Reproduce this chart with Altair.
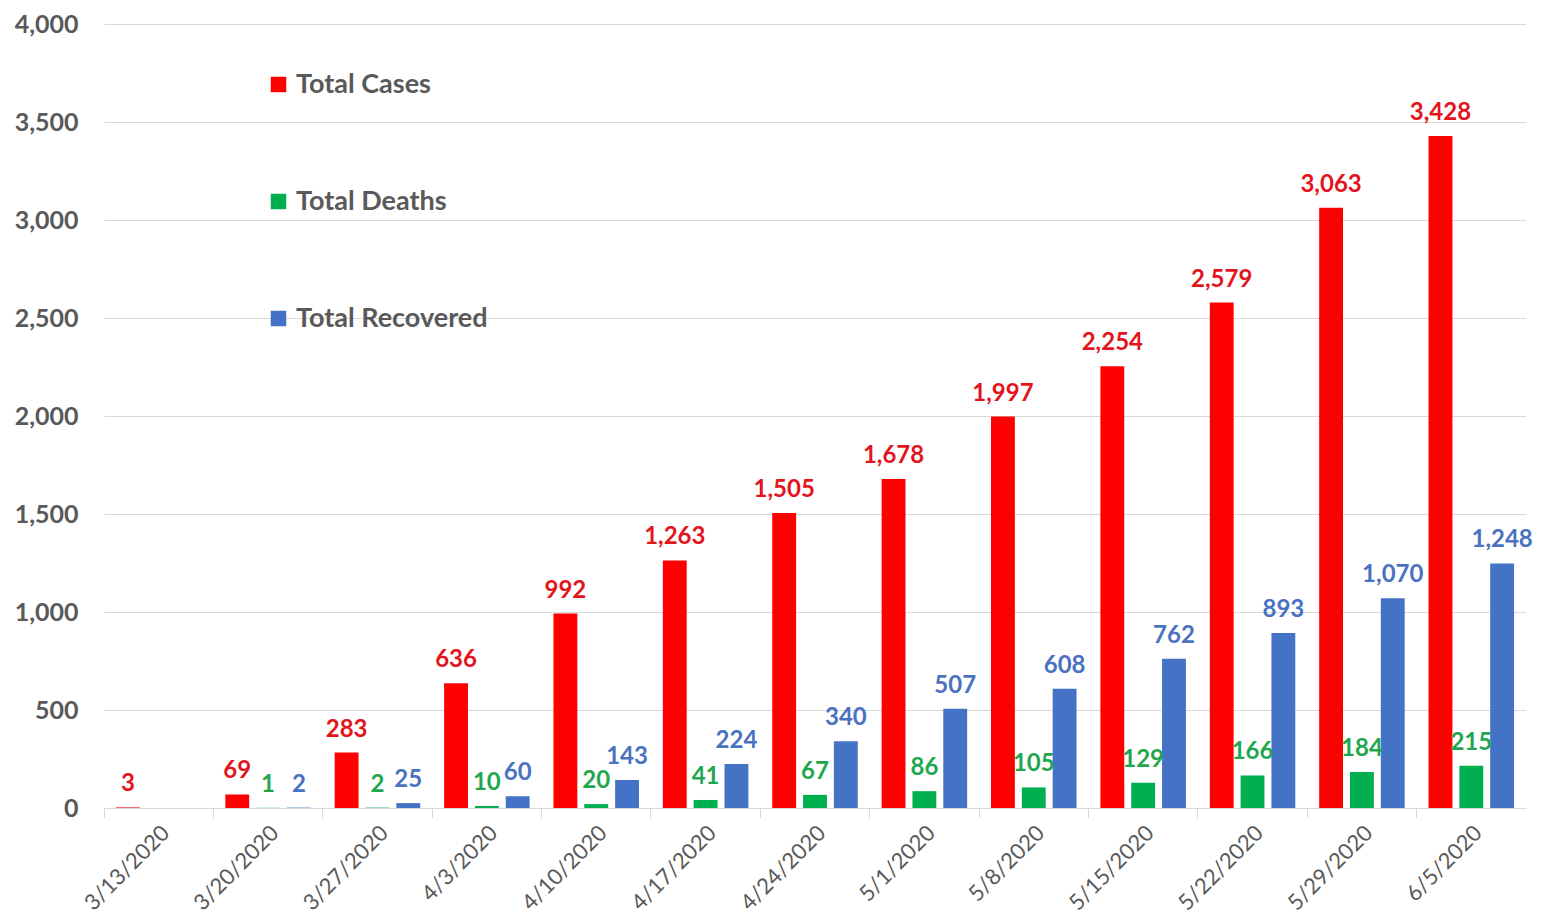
import altair as alt
import pandas as pd

dates = ["3/13/2020", "3/20/2020", "3/27/2020", "4/3/2020", "4/10/2020", "4/17/2020",
         "4/24/2020", "5/1/2020", "5/8/2020", "5/15/2020", "5/22/2020", "5/29/2020", "6/5/2020"]
total_cases = [3, 69, 283, 636, 992, 1263, 1505, 1678, 1997, 2254, 2579, 3063, 3428]
total_deaths = [None, 1, 2, 10, 20, 41, 67, 86, 105, 129, 166, 184, 215]
total_recovered = [None, 2, 25, 60, 143, 224, 340, 507, 608, 762, 893, 1070, 1248]
series = ["Total Cases", "Total Deaths", "Total Recovered"]
colors = ["#FF0000", "#00B050", "#4472C4"]
label_colors = ["#E3141C", "#1FA74F", "#4A72C0"]

rows = []
for s, vals in zip(series, [total_cases, total_deaths, total_recovered]):
    for d, v in zip(dates, vals):
        if v is not None:
            rows.append({"date": d, "series": s, "value": v})
df = pd.DataFrame(rows)

FONT = "Lato"
GREY = "#595959"

x = alt.X("date:N", sort=dates, title=None,
          scale=alt.Scale(paddingInner=0, paddingOuter=0),
          axis=alt.Axis(bandPosition=0, labelAngle=-45,
                        labelFontSize=22, labelColor=GREY, labelFont=FONT,
                        domainColor="#d9d9d9", tickColor="#d9d9d9", tickSize=10,
                        labelPadding=4, grid=False))
xoff = alt.XOffset("series:N", sort=series,
                   scale=alt.Scale(paddingInner=0.226, paddingOuter=0.387))
y = alt.Y("value:Q", title=None,
          scale=alt.Scale(domain=[0, 4000]),
          axis=alt.Axis(values=list(range(0, 4001, 500)), format=",d",
                        labelFontSize=25, labelFontWeight="bold", labelColor=GREY,
                        labelFont=FONT, domain=False, ticks=False, gridColor="#d9d9d9",
                        labelPadding=26, minExtent=96, maxExtent=96))

bars = alt.Chart(df).mark_bar().encode(
    x=x, xOffset=xoff, y=y,
    color=alt.Color("series:N", sort=series, title=None,
                    scale=alt.Scale(domain=series, range=colors),
                    legend=alt.Legend(orient="none", legendX=161, legendY=47,
                                      direction="vertical", symbolType="square",
                                      symbolSize=240, symbolStrokeWidth=0,
                                      labelFontSize=27, labelFontWeight="bold",
                                      labelColor=GREY, labelFont=FONT, labelLimit=400,
                                      rowPadding=89, labelOffset=4)),
)

labels = alt.Chart(df).mark_text(fontSize=24, fontWeight="bold", font=FONT,
                                 baseline="middle", dy=-23).encode(
    x=x, xOffset=xoff, y=y,
    text=alt.Text("value:Q", format=",d"),
    color=alt.Color("series:N", sort=series,
                    scale=alt.Scale(domain=series, range=label_colors), legend=None),
)

chart = alt.layer(bars, labels).resolve_scale(color="independent").properties(
    width=1422, height=784, background="white",
    padding={"left": 0, "top": 4, "right": 0, "bottom": 0},
).configure_view(stroke=None)

chart.save("out.html", embed_options={"renderer": "svg", "actions": False})
